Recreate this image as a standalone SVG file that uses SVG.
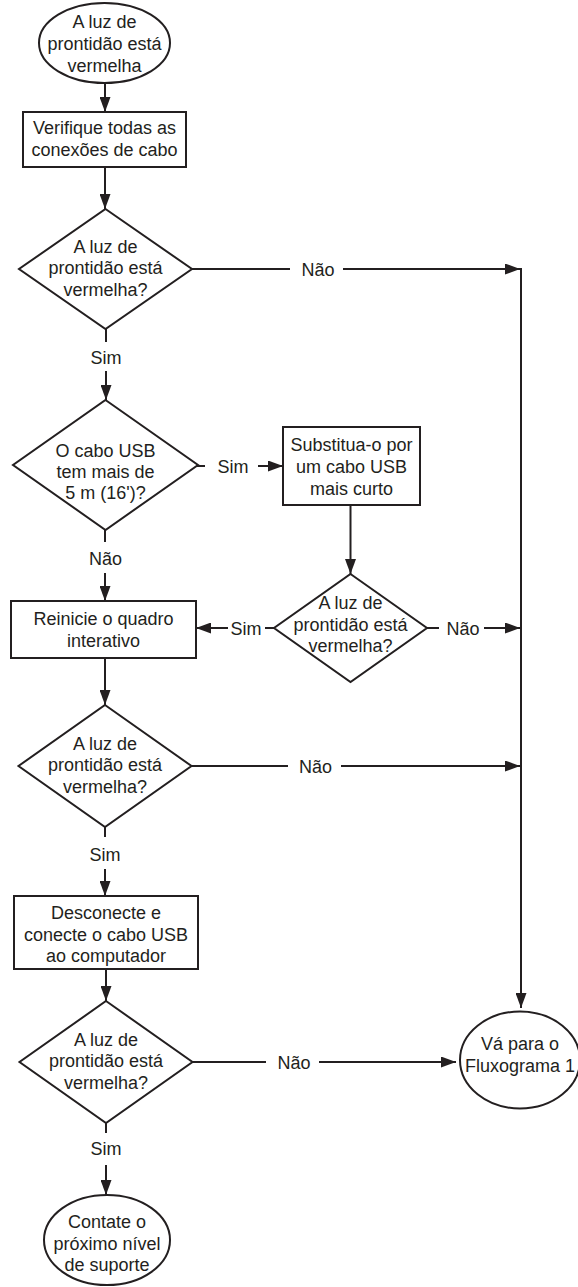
<svg xmlns="http://www.w3.org/2000/svg" width="578" height="1287" viewBox="0 0 578 1287">
<style>
.s{fill:#fff;stroke:#231f20;stroke-width:2}
.t{font-family:"Liberation Sans",Arial,sans-serif;font-size:18px;fill:#231f20;text-anchor:middle}
.c{fill:none;stroke:#231f20;stroke-width:2}
</style>
<defs>
<marker id="ah" markerUnits="userSpaceOnUse" markerWidth="15" markerHeight="11" refX="15" refY="5.5" orient="auto">
<path d="M0,0 L15,5.5 L0,11 z" fill="#231f20"/>
</marker>
</defs>
<rect width="578" height="1287" fill="#fff"/>
<g id="connectors">
<line class="c" x1="105" y1="83" x2="105" y2="112" marker-end="url(#ah)"/>
<line class="c" x1="105" y1="167" x2="105" y2="209" marker-end="url(#ah)"/>
<line class="c" x1="191" y1="269" x2="290" y2="269"/>
<text class="t" x="318" y="275.5">Não</text>
<line class="c" x1="343" y1="269" x2="520" y2="269" marker-end="url(#ah)"/>
<line class="c" x1="521" y1="268" x2="521" y2="1008" marker-end="url(#ah)"/>
<line class="c" x1="106" y1="329" x2="106" y2="342"/>
<text class="t" x="106" y="363.5">Sim</text>
<line class="c" x1="106" y1="371" x2="106" y2="400" marker-end="url(#ah)"/>
<line class="c" x1="197" y1="466" x2="205" y2="466"/>
<text class="t" x="233" y="472.5">Sim</text>
<line class="c" x1="258" y1="466" x2="283" y2="466" marker-end="url(#ah)"/>
<line class="c" x1="105" y1="530" x2="105" y2="542"/>
<text class="t" x="105.5" y="565">Não</text>
<line class="c" x1="105" y1="573" x2="105" y2="601" marker-end="url(#ah)"/>
<line class="c" x1="350.5" y1="505" x2="350.5" y2="574" marker-end="url(#ah)"/>
<line class="c" x1="274" y1="628" x2="265" y2="628"/>
<text class="t" x="246" y="634.5">Sim</text>
<line class="c" x1="228" y1="628" x2="196" y2="628" marker-end="url(#ah)"/>
<line class="c" x1="427" y1="628" x2="439" y2="628"/>
<text class="t" x="463" y="634.5">Não</text>
<line class="c" x1="484" y1="628" x2="520" y2="628" marker-end="url(#ah)"/>
<line class="c" x1="105" y1="658" x2="105" y2="705" marker-end="url(#ah)"/>
<line class="c" x1="191.5" y1="766" x2="288" y2="766"/>
<text class="t" x="315.5" y="772.5">Não</text>
<line class="c" x1="341" y1="766" x2="520" y2="766" marker-end="url(#ah)"/>
<line class="c" x1="105" y1="827" x2="105" y2="837"/>
<text class="t" x="105" y="861">Sim</text>
<line class="c" x1="105" y1="869" x2="105" y2="896" marker-end="url(#ah)"/>
<line class="c" x1="106" y1="969" x2="106" y2="1001" marker-end="url(#ah)"/>
<line class="c" x1="192.5" y1="1062" x2="266" y2="1062"/>
<text class="t" x="294" y="1068.5">Não</text>
<line class="c" x1="319" y1="1062" x2="456" y2="1062" marker-end="url(#ah)"/>
<line class="c" x1="106" y1="1123" x2="106" y2="1133"/>
<text class="t" x="106" y="1155">Sim</text>
<line class="c" x1="106" y1="1165" x2="106" y2="1195" marker-end="url(#ah)"/>
</g>
<g id="start">
<ellipse class="s" cx="104.5" cy="43" rx="65.5" ry="40"/>
<text class="t" x="104.5" y="28">A luz de</text>
<text class="t" x="104.5" y="50">prontidão está</text>
<text class="t" x="104.5" y="72">vermelha</text>
</g>
<g id="check-cables">
<rect class="s" x="23" y="112" width="163" height="55"/>
<text class="t" x="104.5" y="134">Verifique todas as</text>
<text class="t" x="104.5" y="156">conexões de cabo</text>
</g>
<g id="decision1">
<polygon class="s" points="105.5,209 192,269 105.5,329 19,269"/>
<text class="t" x="105.5" y="252.5">A luz de</text>
<text class="t" x="105.5" y="274">prontidão está</text>
<text class="t" x="105.5" y="295.5">vermelha?</text>
</g>
<g id="decision-usb">
<polygon class="s" points="105.5,400 198,465 105.5,530 13,465"/>
<text class="t" x="105.5" y="457">O cabo USB</text>
<text class="t" x="105.5" y="478">tem mais de</text>
<text class="t" x="105.5" y="499">5 m (16')?</text>
</g>
<g id="replace-cable">
<rect class="s" x="283" y="427" width="137" height="78"/>
<text class="t" x="351.5" y="451">Substitua-o por</text>
<text class="t" x="351.5" y="473">um cabo USB</text>
<text class="t" x="351.5" y="495">mais curto</text>
</g>
<g id="decision2">
<polygon class="s" points="350.5,574 427,628 350.5,682 274,628"/>
<text class="t" x="350.5" y="609">A luz de</text>
<text class="t" x="350.5" y="630.5">prontidão está</text>
<text class="t" x="350.5" y="652">vermelha?</text>
</g>
<g id="restart-board">
<rect class="s" x="11" y="601" width="185" height="57"/>
<text class="t" x="103.5" y="625">Reinicie o quadro</text>
<text class="t" x="103.5" y="646.5">interativo</text>
</g>
<g id="decision3">
<polygon class="s" points="105,705 191.5,766 105,827 18.5,766"/>
<text class="t" x="105" y="749.5">A luz de</text>
<text class="t" x="105" y="771">prontidão está</text>
<text class="t" x="105" y="792.5">vermelha?</text>
</g>
<g id="reconnect-usb">
<rect class="s" x="14" y="896" width="184" height="73"/>
<text class="t" x="106" y="919">Desconecte e</text>
<text class="t" x="106" y="940.5">conecte o cabo USB</text>
<text class="t" x="106" y="962">ao computador</text>
</g>
<g id="decision4">
<polygon class="s" points="106,1001 192.5,1062 106,1123 19.5,1062"/>
<text class="t" x="106" y="1045.5">A luz de</text>
<text class="t" x="106" y="1067">prontidão está</text>
<text class="t" x="106" y="1088.5">vermelha?</text>
</g>
<g id="goto-flowchart1">
<ellipse class="s" cx="520" cy="1060" rx="60" ry="48.5"/>
<text class="t" x="520" y="1050">Vá para o</text>
<text class="t" x="520" y="1071.5">Fluxograma 1</text>
</g>
<g id="contact-support">
<ellipse class="s" cx="107" cy="1240" rx="63" ry="45"/>
<text class="t" x="107" y="1228">Contate o</text>
<text class="t" x="107" y="1249.5">próximo nível</text>
<text class="t" x="107" y="1271">de suporte</text>
</g>
</svg>
